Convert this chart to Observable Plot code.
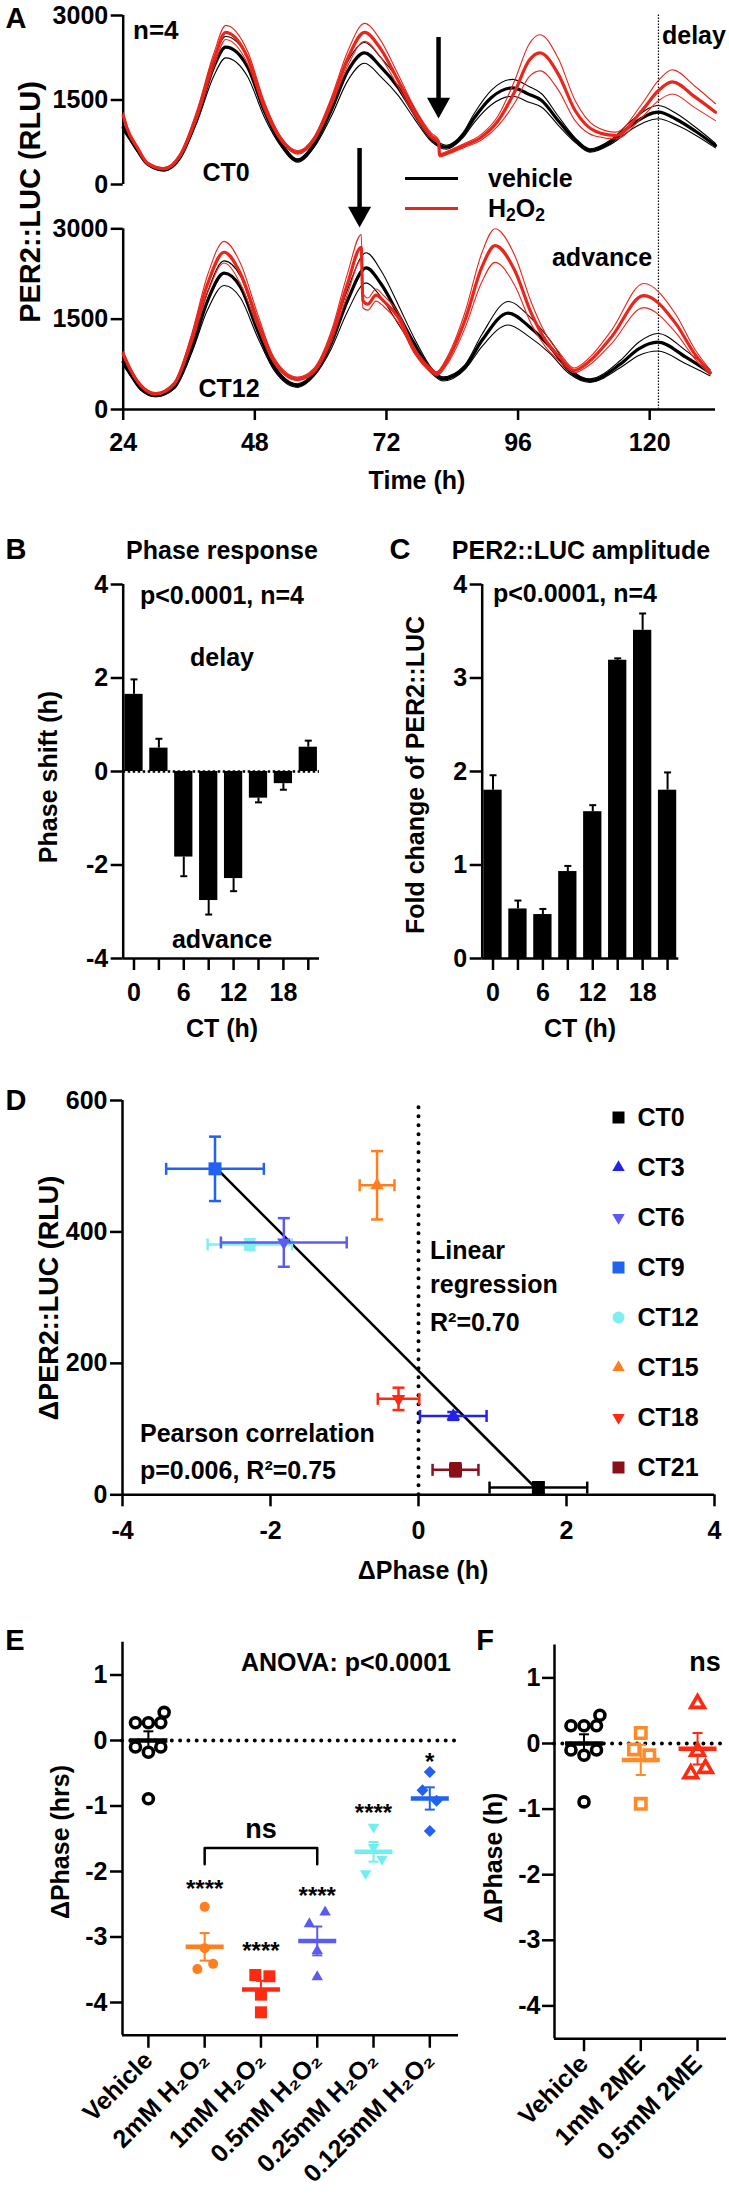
<!DOCTYPE html>
<html><head><meta charset="utf-8">
<script src="https://cdn.jsdelivr.net/npm/d3@7"></script>
<script src="https://cdn.jsdelivr.net/npm/@observablehq/plot@0.6"></script>
<style>
html,body{margin:0;padding:0;background:#fff;}
#fig{position:relative;width:729px;height:2200px;overflow:hidden;font-family:"Liberation Sans",Arial,Helvetica,sans-serif;font-weight:bold;color:#000;}
.t{position:absolute;line-height:1;white-space:nowrap;}
.t sub{font-size:0.7em;vertical-align:-0.28em;line-height:0;}
</style></head><body><div id="fig"></div>
<script>
// ================= DATA =================
// ---- Panel A: PER2::LUC traces (time in h, mean RLU, SEM) ----
const aTicksX = [24, 48, 72, 96, 120];
const aTicksY = [0, 1500, 3000];
const ct0VehT = [24, 24.7, 26.6, 28.4, 31.4, 34.4, 37.5, 40.5, 42.7, 46.7, 49.7, 52.8, 55.8, 58.9, 61.9, 65, 68, 71, 74.1, 77.1, 80.2, 82.9, 86, 88, 91.2, 95, 98, 100.3, 103.3, 106.5, 109.1, 113, 117, 121.6, 125, 128.3, 132];
const ct0VehMean = [1010, 900, 604, 367, 260, 485, 1195, 2082, 2438, 2082, 1313, 722, 426, 722, 1313, 2023, 2337, 2082, 1727, 1255, 811, 662, 880, 1180, 1550, 1716, 1600, 1491, 1136, 780, 604, 760, 1080, 1284, 1150, 950, 690];
const ct0VehSem = [60, 40, 25, 20, 20, 25, 80, 160, 190, 170, 110, 50, 30, 50, 110, 170, 185, 170, 140, 90, 50, 35, 45, 80, 130, 150, 140, 120, 80, 40, 30, 40, 80, 118, 100, 70, 40];
const ct0H2T = [24, 24.7, 26.6, 28.4, 31.4, 34.4, 37.5, 40.5, 42.7, 46.7, 49.7, 52.8, 55.8, 58.9, 61.9, 65, 68, 71, 74.1, 77.1, 80.2, 81.5, 81.7, 84, 86.2, 89.3, 92.4, 95.4, 98, 100, 103.3, 106.4, 110, 113.8, 118.6, 121.6, 124.1, 128.3, 132];
const ct0H2Mean = [1225, 1000, 650, 380, 280, 520, 1250, 2200, 2700, 2250, 1400, 800, 570, 820, 1450, 2250, 2700, 2400, 1850, 1300, 860, 760, 520, 600, 692, 840, 1136, 1650, 2200, 2337, 1965, 1313, 950, 870, 1313, 1668, 1822, 1550, 1284];
const ct0H2Sem = [50, 40, 25, 20, 20, 30, 80, 120, 125, 110, 80, 40, 30, 40, 80, 130, 160, 150, 110, 70, 50, 40, 30, 30, 35, 50, 90, 200, 290, 320, 280, 180, 90, 60, 120, 180, 215, 190, 150];
const ct12VehT = [24, 25.3, 27.2, 29.9, 33.3, 36.4, 39.4, 42.4, 45.4, 48.5, 51.5, 55.8, 58.8, 61.9, 64.9, 68.3, 71, 74.1, 77.1, 80.2, 82.3, 86.3, 89.4, 94.2, 98, 101.9, 105.3, 109.1, 114.7, 118, 121.5, 126.6, 131];
const ct12VehMean = [785, 592, 343, 232, 370, 979, 1809, 2263, 2030, 1311, 702, 398, 592, 1090, 1809, 2352, 2087, 1589, 1090, 647, 509, 702, 1145, 1599, 1380, 1034, 647, 481, 758, 1007, 1117, 868, 610];
const ct12VehSem = [50, 30, 20, 20, 25, 60, 150, 205, 180, 110, 50, 30, 40, 90, 180, 250, 220, 160, 90, 45, 35, 40, 100, 195, 170, 110, 50, 30, 60, 110, 145, 110, 50];
const ct12H2T = [24, 25.3, 27.2, 29.9, 33.3, 36.4, 39.4, 42.4, 45.4, 48.5, 51.5, 55.8, 58.8, 61.9, 64.9, 67.4, 67.7, 68.6, 70.1, 71.5, 74.1, 77.1, 80.2, 81.1, 83, 86.3, 89.4, 91.8, 95.4, 98.4, 101, 103.6, 106.2, 109, 113, 118.9, 124.8, 128.2, 131];
const ct12H2Mean = [924, 664, 400, 260, 426, 1145, 2087, 2611, 2253, 1477, 813, 509, 647, 1200, 2087, 2694, 1809, 1750, 1900, 1800, 1532, 979, 647, 592, 800, 1477, 2362, 2722, 2307, 1600, 1150, 868, 650, 800, 1200, 1892, 1422, 924, 619];
const ct12H2Sem = [40, 30, 20, 20, 30, 80, 150, 180, 170, 110, 50, 30, 40, 90, 170, 210, 120, 100, 100, 90, 80, 50, 40, 35, 60, 130, 240, 280, 250, 180, 110, 70, 40, 60, 110, 200, 150, 80, 40];
const markerTime = [121.6];                 // dotted reference line
const arrowTimes = [81.5, 67.1];            // H2O2 pulse (CT0, CT12)
const arrowShaftTop = [2609, 4333];
const arrowShaftBottom = [1480, 3303];
const arrowTip = [1171, 3021];

// ---- Panels B / C ----
const ctHours = [0, 3, 6, 9, 12, 15, 18, 21];
const ctTickLabels = [0, 6, 12, 18];
const phaseShift = [1.65, 0.5, -1.83, -2.76, -2.29, -0.57, -0.26, 0.52];
const phaseShiftSem = [0.32, 0.2, 0.41, 0.3, 0.27, 0.09, 0.13, 0.14];
const ampFold = [1.80, 0.53, 0.47, 0.93, 1.57, 3.19, 3.51, 1.80];
const ampFoldSem = [0.16, 0.09, 0.06, 0.06, 0.07, 0.02, 0.18, 0.19];

// ---- Panel D ----
const dNames = ["CT0", "CT3", "CT6", "CT9", "CT12", "CT15", "CT18", "CT21"];
const dPhase = [1.62, 0.47, -1.82, -2.75, -2.28, -0.56, -0.27, 0.50];
const dPhaseErr = [0.66, 0.45, 0.85, 0.66, 0.57, 0.235, 0.28, 0.31];
const dAmp = [11, 120, 384, 496, 381, 471, 146, 38];
const dAmpErr = [8, 6, 37, 49, 8, 52, 17, 10];
const dColors = ["#000000", "#2323e8", "#5b5bf2", "#2262f0", "#7ff0ee", "#ff7f1e", "#ff2a12", "#8b0f1a"];
const dShapes = ["square", "up", "down", "square", "circle", "up", "down", "square"];
const regPhase = [-2.75, 1.55];
const regAmp = [499, 14];

// ---- Panel E ----
const eCats = ["Vehicle", "2mM H₂O₂", "1mM H₂O₂", "0.5mM H₂O₂", "0.25mM H₂O₂", "0.125mM H₂O₂"];
const vehiclePts = [0.27, 0.27, 0.27, 0.43, -0.1, -0.1, -0.18, -0.89];
const vehicleJit = [-0.23, 0, 0.22, 0.28, -0.23, 0.22, 0, 0];
const h2o2_2mM = [-2.54, -3.17, -3.49, -3.41];
const h2o2_1mM = [-3.58, -3.6, -3.88, -4.15];
const h2o2_05mM = [-2.62, -2.8, -3.21, -3.61];
const h2o2_025mM = [-1.32, -1.63, -1.81, -2.03];
const h2o2_0125mM = [-0.48, -0.76, -0.92, -1.38];
const jit4 = [[0, 0, -0.13, 0.15], [-0.1, 0.15, 0, 0], [0.14, -0.14, 0, 0], [0, 0, 0.15, -0.14], [0, -0.13, 0.12, 0]];
const eMean = [0, -3.15, -3.80, -3.06, -1.70, -0.885];
const eSem = [0.14, 0.21, 0.13, 0.22, 0.15, 0.17];
const eColors = ["#000000", "#ff7f1e", "#ff2a12", "#5b5bf2", "#6ff0ee", "#2262f0"];
const eShapes = ["circle", "circle", "square", "up", "down", "diamond"];
const eStars = [{g: 1, y: -2.18, s: "****"}, {g: 2, y: -3.13, s: "****"}, {g: 3, y: -2.28, s: "****"}, {g: 4, y: -1.02, s: "****"}, {g: 5, y: -0.24, s: "*"}];
const nsBracket = [{x: 1, y: -1.89}, {x: 1, y: -1.64}, {x: 3, y: -1.64}, {x: 3, y: -1.89}];

// ---- Panel F ----
const fCats = ["Vehicle", "1mM 2ME", "0.5mM 2ME"];
const me_1mM = [0.16, -0.09, -0.18, -0.92];
const me_05mM = [0.61, -0.12, -0.46, -0.38];
const fJit = [[0, -0.12, 0.15, 0], [0, 0, -0.12, 0.14]];
const fMean = [0, -0.25, -0.08];
const fSem = [0.14, 0.23, 0.24];
const fColors = ["#000000", "#ff8a2a", "#ff2a12"];

// ================= HELPERS =================
const FONT = '"Liberation Sans", Arial, Helvetica, sans-serif';
const fig = document.getElementById("fig");
const style = {fontFamily: FONT, fontSize: "25px", fontWeight: "bold", color: "#000", background: "none", overflow: "visible"};
const RED = "#e8261c";
const fmt = d => String(d);
function put(svg, left, top) { svg.style.position = "absolute"; svg.style.left = left + "px"; svg.style.top = top + "px"; fig.appendChild(svg); }
function label(html, x, y, o = {}) {
  const d = document.createElement("div");
  d.className = "t"; d.innerHTML = html;
  d.style.left = x + "px"; d.style.top = y + "px";
  d.style.fontSize = (o.size || 25) + "px";
  const a = o.anchor || "middle";
  const tx = a === "middle" ? "-50%" : a === "end" ? "-100%" : "0";
  d.style.transform = `translate(${tx},-50%)` + (o.rot ? ` rotate(${o.rot}deg)` : "");
  fig.appendChild(d);
}
const rad = (size) => Math.sqrt(size / Math.PI);
const SYM = {
  hbar: {draw(c, s) { const r = rad(s); c.moveTo(-r, 0); c.lineTo(r, 0); }},
  vbar: {draw(c, s) { const r = rad(s); c.moveTo(0, -r); c.lineTo(0, r); }},
  square: {draw(c, s) { const r = rad(s); c.rect(-r, -r, 2 * r, 2 * r); }},
  circle: {draw(c, s) { const r = rad(s); c.moveTo(r, 0); c.arc(0, 0, r, 0, 2 * Math.PI); c.closePath(); }},
  up: {draw(c, s) { const r = rad(s) * 1.2, t = r / 2, u = r * Math.sqrt(3) / 2; c.moveTo(0, -r); c.lineTo(u, t); c.lineTo(-u, t); c.closePath(); }},
  down: {draw(c, s) { const r = rad(s) * 1.2, t = r / 2, u = r * Math.sqrt(3) / 2; c.moveTo(0, r); c.lineTo(u, -t); c.lineTo(-u, -t); c.closePath(); }},
  diamond: {draw(c, s) { const r = rad(s) * 1.2; c.moveTo(0, -r); c.lineTo(r, 0); c.lineTo(0, r); c.lineTo(-r, 0); c.closePath(); }},
  arrow: {draw(c, s) { const r = rad(s); c.moveTo(0, 0); c.lineTo(1.05 * r, -1.9 * r); c.lineTo(-1.05 * r, -1.9 * r); c.closePath(); }}
};
function rows(T, M, S) { return T.map((t, i) => ({t, m: M[i], lo: M[i] - S[i], hi: M[i] + S[i]})); }
function trace(data, color) {
  return [
    Plot.line(data, {x: "t", y: "hi", stroke: color, strokeWidth: 1.1, curve: "monotone-x"}),
    Plot.line(data, {x: "t", y: "lo", stroke: color, strokeWidth: 1.1, curve: "monotone-x"}),
    Plot.line(data, {x: "t", y: "m", stroke: color, strokeWidth: 3.2, curve: "monotone-x"})
  ];
}
function arrowMarks(k) {
  return [
    Plot.ruleX([arrowTimes[k]], {y1: arrowShaftBottom[k], y2: arrowShaftTop[k], stroke: "#000", strokeWidth: 4.5}),
    Plot.dot([arrowTimes[k]], {x: d => d, y: () => arrowTip[k], symbol: SYM.arrow, r: 11, fill: "#000", stroke: "none"})
  ];
}

// ================= PANEL A =================
const aTop = Plot.plot({
  width: 729, height: 200, marginTop: 15, marginBottom: 16, marginLeft: 122.7, marginRight: 14,
  x: {domain: [24, 132], axis: null}, y: {domain: [0, 3000], label: null}, style,
  marks: [
    Plot.ruleX([24], {y1: 0, y2: 3000, strokeWidth: 2.5}),
    Plot.axisY({ticks: aTicksY, tickFormat: fmt, tickSize: 12, tickPadding: 3, strokeWidth: 2.5, label: null}),
    Plot.ruleX(markerTime, {y1: 0, y2: 3035, stroke: "#000", strokeWidth: 1.2, strokeDasharray: "1.5,1.5"}),
    ...trace(rows(ct0VehT, ct0VehMean, ct0VehSem), "#000"),
    ...trace(rows(ct0H2T, ct0H2Mean, ct0H2Sem), RED),
    ...arrowMarks(0)
  ]
});
put(aTop, 0, 0);
const aBot = Plot.plot({
  width: 729, height: 360, marginTop: 88.3, marginBottom: 91, marginLeft: 122.7, marginRight: 14,
  x: {domain: [24, 132], label: null}, y: {domain: [0, 3000], label: null}, style,
  marks: [
    Plot.ruleX([24], {y1: 0, y2: 3000, strokeWidth: 2.5}),
    Plot.ruleY([0], {strokeWidth: 2.5}),
    Plot.axisY({ticks: aTicksY, tickFormat: fmt, tickSize: 12, tickPadding: 3, strokeWidth: 2.5, label: null}),
    Plot.axisX({ticks: aTicksX, tickFormat: fmt, tickSize: 11, tickPadding: 13, strokeWidth: 2.5, label: null}),
    Plot.ruleX(markerTime, {y1: 0, y2: 3735, stroke: "#000", strokeWidth: 1.2, strokeDasharray: "1.5,1.5"}),
    ...trace(rows(ct12VehT, ct12VehMean, ct12VehSem), "#000"),
    ...trace(rows(ct12H2T, ct12H2Mean, ct12H2Sem), RED),
    ...arrowMarks(1)
  ]
});
put(aBot, 0, 140);
// legend A
const lg1 = document.createElement("div"); lg1.style.cssText = "position:absolute;left:405px;top:176.5px;width:53px;height:3px;background:#000"; fig.appendChild(lg1);
const lg2 = document.createElement("div"); lg2.style.cssText = `position:absolute;left:405px;top:206.5px;width:53px;height:3px;background:${RED}`; fig.appendChild(lg2);
label("vehicle", 488, 178, {anchor: "start"});
label("H<sub>2</sub>O<sub>2</sub>", 488, 208, {anchor: "start"});
label("A", 16, 18, {size: 29});
label("n=4", 133, 30, {anchor: "start", size: 26});
label("CT0", 226, 172);
label("CT12", 229, 388);
label("delay", 662, 35, {anchor: "start"});
label("advance", 602, 257);
label("Time (h)", 417, 480);
label("PER2::LUC (RLU)", 30, 202, {size: 29, rot: -90});

// ================= PANELS B, C =================
function barPanel(vals, sems, yDomain, yTicks, width, mLeft, mRight, dottedZero) {
  const data = ctHours.map((ct, i) => ({ct, v: vals[i], tip: vals[i] + Math.sign(vals[i]) * sems[i]}));
  return Plot.plot({
    width, height: 530, marginTop: 54, marginBottom: 102, marginLeft: mLeft, marginRight: mRight,
    x: {domain: [-1.3, 22.35], label: null}, y: {domain: yDomain, label: null}, style,
    marks: [
      Plot.rect(data, {x1: d => d.ct - 1.1, x2: d => d.ct + 1.1, y1: 0, y2: "v", fill: "#000"}),
      Plot.ruleX(data, {x: "ct", y1: "v", y2: "tip", stroke: "#000", strokeWidth: 2}),
      Plot.dot(data, {x: "ct", y: "tip", symbol: SYM.hbar, r: 3.5, stroke: "#000", strokeWidth: 2, fill: "none"}),
      dottedZero ? Plot.ruleY([0], {stroke: "#000", strokeWidth: 2.5, strokeDasharray: "2.5,2.5"}) : null,
      Plot.ruleX([-1.3], {y1: yDomain[0], y2: yDomain[1], strokeWidth: 2.5}),
      Plot.ruleY([yDomain[0]], {strokeWidth: 2.5}),
      Plot.axisY({ticks: yTicks, tickFormat: fmt, tickSize: 12, tickPadding: 3, strokeWidth: 2.5, label: null}),
      Plot.axisX({ticks: ctHours, tickFormat: d => ctTickLabels.includes(d) ? String(d) : "", tickSize: 12, tickPadding: 13, strokeWidth: 2.5, label: null})
    ]
  });
}
put(barPanel(phaseShift, phaseShiftSem, [-4, 4], [-4, -2, 0, 2, 4], 365, 122.7, 46, true), 0, 530);
put(barPanel(ampFold, ampFoldSem, [0, 4], [0, 1, 2, 3, 4], 364, 116.7, 50.7, false), 365, 530);
label("B", 16, 549, {size: 29});
label("Phase response", 222, 550);
label("C", 400, 549, {size: 29});
label("PER2::LUC amplitude", 581, 550);
label("p&lt;0.0001, n=4", 222, 595);
label("p&lt;0.0001, n=4", 575, 593);
label("delay", 222, 657);
label("advance", 222, 939);
label("CT (h)", 222, 1028);
label("CT (h)", 580, 1028);
label("Phase shift (h)", 48, 777, {rot: -90});
label("Fold change of PER2::LUC", 415, 775, {rot: -90});

// ================= PANEL D =================
const dRows = dNames.map((n, i) => ({n, i, x: dPhase[i], y: dAmp[i], x1: dPhase[i] - dPhaseErr[i], x2: dPhase[i] + dPhaseErr[i], y1: dAmp[i] - dAmpErr[i], y2: dAmp[i] + dAmpErr[i]}));
const dMarks = [];
for (let i = dRows.length - 1; i >= 0; i--) {
  const r = [dRows[i]], c = dColors[i];
  dMarks.push(
    Plot.ruleY(r, {y: "y", x1: "x1", x2: "x2", stroke: c, strokeWidth: 2.5}),
    Plot.dot(r, {x: "x1", y: "y", symbol: SYM.vbar, r: 6, stroke: c, strokeWidth: 2.5, fill: "none"}),
    Plot.dot(r, {x: "x2", y: "y", symbol: SYM.vbar, r: 6, stroke: c, strokeWidth: 2.5, fill: "none"}),
    Plot.ruleX(r, {x: "x", y1: "y1", y2: "y2", stroke: c, strokeWidth: 2.5}),
    Plot.dot(r, {x: "x", y: "y1", symbol: SYM.hbar, r: 6, stroke: c, strokeWidth: 2.5, fill: "none"}),
    Plot.dot(r, {x: "x", y: "y2", symbol: SYM.hbar, r: 6, stroke: c, strokeWidth: 2.5, fill: "none"}),
    Plot.dot(r, {x: "x", y: "y", symbol: SYM[dShapes[i]], r: 6.5, fill: c, stroke: "none"})
  );
}
const plotD = Plot.plot({
  width: 729, height: 530, marginTop: 30, marginBottom: 105.7, marginLeft: 122, marginRight: 15,
  x: {domain: [-4, 4], label: null}, y: {domain: [0, 600], label: null}, style,
  marks: [
    Plot.ruleX([-4], {y1: 0, y2: 600, strokeWidth: 2.5}),
    Plot.ruleY([0], {strokeWidth: 2.5}),
    Plot.axisY({ticks: [0, 200, 400, 600], tickFormat: fmt, tickSize: 12, tickPadding: 3, strokeWidth: 2.5, label: null}),
    Plot.axisX({ticks: [-4, -2, 0, 2, 4], tickFormat: fmt, tickSize: 12, tickPadding: 14, strokeWidth: 2.5, label: null}),
    Plot.ruleX([0], {y1: 0, y2: 600, stroke: "#000", strokeWidth: 4, strokeDasharray: "0,9", strokeLinecap: "round"}),
    Plot.line(regPhase.map((x, i) => ({x, y: regAmp[i]})), {x: "x", y: "y", stroke: "#000", strokeWidth: 2.5}),
    ...dMarks
  ]
});
put(plotD, 0, 1070);
const legendD = Plot.plot({
  width: 129, height: 404, marginTop: 27, marginBottom: 27, marginLeft: 0, marginRight: 0,
  x: {domain: [0, 1], axis: null}, y: {type: "point", domain: dNames, axis: null, padding: 0}, style,
  marks: [
    ...dNames.map((n, i) => Plot.dot([n], {y: d => d, frameAnchor: "left", dx: 18, symbol: SYM[dShapes[i]], r: 6, fill: dColors[i], stroke: "none"})),
    Plot.text(dNames, {y: d => d, text: d => d, frameAnchor: "left", dx: 37, textAnchor: "start", fontSize: 25})
  ]
});
put(legendD, 600, 1090);
label("D", 16, 1100, {size: 29});
label("ΔPER2::LUC (RLU)", 49, 1298, {size: 27, rot: -90});
label("ΔPhase (h)", 423, 1570);
label("Linear", 430, 1250, {anchor: "start"});
label("regression", 430, 1284, {anchor: "start"});
label("R²=0.70", 430, 1322, {anchor: "start"});
label("Pearson correlation", 140, 1433, {anchor: "start"});
label("p=0.006, R²=0.75", 140, 1470, {anchor: "start"});

// ================= PANEL E =================
const eGroups = [vehiclePts, h2o2_2mM, h2o2_1mM, h2o2_05mM, h2o2_025mM, h2o2_0125mM];
const eJit = [vehicleJit, ...jit4];
function scatterMarks(groups, jits, colors, shapes, openFlags, means, sems, sizes) {
  const marks = [];
  groups.forEach((vals, g) => {
    const pts = vals.map((y, k) => ({x: g + jits[g][k], y}));
    const m = [{g, y: means[g], lo: means[g] - sems[g], hi: means[g] + sems[g]}];
    marks.push(
      Plot.ruleX(m, {x: "g", y1: "lo", y2: "hi", stroke: colors[g], strokeWidth: 2}),
      Plot.dot(m, {x: "g", y: "hi", symbol: SYM.hbar, r: 5, stroke: colors[g], strokeWidth: 2, fill: "none"}),
      Plot.dot(m, {x: "g", y: "lo", symbol: SYM.hbar, r: 5, stroke: colors[g], strokeWidth: 2, fill: "none"}),
      Plot.dot(pts, {x: "x", y: "y", symbol: SYM[shapes[g]], r: sizes[g],
        fill: openFlags[g] ? "#fff" : colors[g], stroke: openFlags[g] ? colors[g] : "none", strokeWidth: 3.6}),
      Plot.dot(m, {x: "g", y: "y", symbol: SYM.hbar, r: 19, stroke: colors[g], strokeWidth: 4.5, fill: "none"})
    );
  });
  return marks;
}
const plotE = Plot.plot({
  width: 475, height: 600, marginTop: 41.75, marginBottom: 165.25, marginLeft: 122, marginRight: 17,
  x: {domain: [-0.46, 5.51], label: null}, y: {domain: [-4.5, 1.5], label: null}, style,
  marks: [
    Plot.ruleX([-0.46], {y1: -4.5, y2: 1.5, strokeWidth: 2.5}),
    Plot.ruleY([-4.5], {strokeWidth: 2.5}),
    Plot.axisY({ticks: [-4, -3, -2, -1, 0, 1], tickFormat: fmt, tickSize: 12, tickPadding: 3, strokeWidth: 2.5, label: null}),
    Plot.axisX({ticks: [0, 1, 2, 3, 4, 5], tickFormat: () => "", tickSize: 13, strokeWidth: 2.5, label: null}),
    Plot.ruleY([0], {stroke: "#000", strokeWidth: 4, strokeDasharray: "0,8.3", strokeLinecap: "round"}),
    ...scatterMarks(eGroups, eJit, eColors, eShapes, [true, false, false, false, false, false], eMean, eSem, [5, 5, 6, 5.5, 5.5, 5]),
    Plot.text(eStars, {x: "g", y: "y", text: "s", fontSize: 24, dy: 6}),
    Plot.line(nsBracket, {x: "x", y: "y", stroke: "#000", strokeWidth: 2.5}),
    Plot.text(["ns"], {x: () => 2, y: () => -1.36, text: d => d, fontSize: 27}),
    Plot.text(eCats, {x: (d, i) => i, text: d => d, frameAnchor: "bottom", rotate: -45, textAnchor: "end", lineAnchor: "middle", dy: 21, fontSize: 25})
  ]
});
put(plotE, 0, 1600);
label("E", 15, 1640, {size: 29});
label("ANOVA: p&lt;0.0001", 451, 1662, {anchor: "end"});
label("ΔPhase (hrs)", 60, 1842, {rot: -90});

// ================= PANEL F =================
const plotF = Plot.plot({
  width: 254, height: 600, marginTop: 44.6, marginBottom: 161.8, marginLeft: 79, marginRight: 3,
  x: {domain: [-0.52, 2.51], label: null}, y: {domain: [-4.5, 1.5], label: null}, style,
  marks: [
    Plot.ruleX([-0.52], {y1: -4.5, y2: 1.5, strokeWidth: 2.5}),
    Plot.ruleY([-4.5], {strokeWidth: 2.5}),
    Plot.axisY({ticks: [-4, -3, -2, -1, 0, 1], tickFormat: fmt, tickSize: 12, tickPadding: 2, strokeWidth: 2.5, label: null}),
    Plot.axisX({ticks: [0, 1, 2], tickFormat: () => "", tickSize: 13, strokeWidth: 2.5, label: null}),
    Plot.ruleY([0], {stroke: "#000", strokeWidth: 4, strokeDasharray: "0,8.3", strokeLinecap: "round"}),
    ...scatterMarks([vehiclePts, me_1mM, me_05mM], [vehicleJit, ...fJit], fColors, ["circle", "square", "up"], [true, true, true], fMean, fSem, [5, 5.2, 6.5]),
    Plot.text(fCats, {x: (d, i) => i, text: d => d, frameAnchor: "bottom", rotate: -45, textAnchor: "end", lineAnchor: "middle", dy: 21, fontSize: 25})
  ]
});
put(plotF, 475, 1600);
label("F", 485, 1640, {size: 29});
label("ns", 705, 1662, {size: 27});
label("ΔPhase (h)", 493, 1858, {rot: -90});
</script></body></html>
